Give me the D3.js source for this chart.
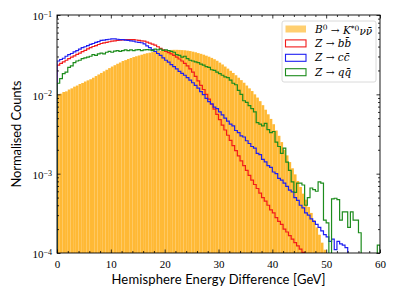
<!DOCTYPE html>
<html>
<head>
<meta charset="utf-8">
<script src="https://cdn.jsdelivr.net/npm/d3@7"></script>
<style>
body { margin: 0; background: #fff; }
svg { display: block; }
</style>
</head>
<body>
<svg id="chart" width="399" height="299"></svg>
<script>
// histogram bins: 0..60 GeV, 0.5 GeV wide
var binWidth = 0.5;
var xTicks = [0, 10, 20, 30, 40, 50, 60];
var yTicks = [1e-4, 1e-3, 1e-2, 1e-1];
var yTickExp = ["\u22124", "\u22123", "\u22122", "\u22121"];

// B0 -> K*0 nu nubar (filled)
var signal = [
    0.0100, 0.0102, 0.0107, 0.0109, 0.0115, 0.0119, 0.0125, 0.0129, 0.0135, 0.0139,
    0.0145, 0.0150, 0.0155, 0.0162, 0.0170, 0.0178, 0.0186, 0.0195, 0.0204, 0.0214,
    0.0224, 0.0233, 0.0243, 0.0252, 0.0263, 0.0270, 0.0279, 0.0287, 0.0295, 0.0302,
    0.0309, 0.0316, 0.0324, 0.0330, 0.0335, 0.0341, 0.0347, 0.0351, 0.0355, 0.0357,
    0.0359, 0.0361, 0.0363, 0.0364, 0.0364, 0.0363, 0.0361, 0.0359, 0.0355, 0.0351,
    0.0345, 0.0339, 0.0331, 0.0324, 0.0316, 0.0307, 0.0298, 0.0288, 0.0277, 0.0265,
    0.0251, 0.0238, 0.0224, 0.0211, 0.0198, 0.0186, 0.0174, 0.0162, 0.0151, 0.0140,
    0.0129, 0.0119, 0.0110, 0.0100, 0.0091, 0.0082, 0.0073, 0.0064, 0.0056, 0.0049,
    0.0042, 0.0035, 0.0030, 0.0025, 0.0020, 0.0017, 0.0014, 0.00117, 0.00098, 0.00081,
    0.00068, 0.00056, 0.00047, 0.00038, 0.00032, 0.00026, 0.00021, 0.00017, 0.000135, 0.00011,
    0, 0, 0, 0, 0, 0, 0, 0, 0, 0,
    0, 0, 0, 0, 0, 0, 0, 0, 0, 0
];

// Z -> b bbar
var zbb = [
    0.0234, 0.0245, 0.0257, 0.0269, 0.0282, 0.0294, 0.0305, 0.0318, 0.0331, 0.0345,
    0.0359, 0.0374, 0.0389, 0.0401, 0.0412, 0.0425, 0.0437, 0.0445, 0.0452, 0.0460,
    0.0468, 0.0473, 0.0479, 0.0482, 0.0484, 0.0488, 0.0490, 0.0490, 0.0490, 0.0484,
    0.0479, 0.0473, 0.0468, 0.0455, 0.0442, 0.0430, 0.0417, 0.0398, 0.0380, 0.0363,
    0.0347, 0.0335, 0.0324, 0.0309, 0.0295, 0.0279, 0.0263, 0.0245, 0.0229, 0.0209,
    0.0191, 0.0168, 0.0148, 0.0130, 0.0115, 0.0100, 0.0087, 0.0075, 0.0065, 0.0056,
    0.0048, 0.0041, 0.00355, 0.00305, 0.00263, 0.00226, 0.00195, 0.00168, 0.00145, 0.00126,
    0.00110, 0.00095, 0.00083, 0.00073, 0.00065, 0.00057, 0.00050, 0.00045, 0.00040, 0.00035,
    0.00032, 0.00028, 0.00025, 0.00023, 0.00020, 0.000184, 0.000166, 0.000150, 0.000135, 0.000123,
    0.000112, 0.000102, 0, 0, 0, 0, 0, 0, 0, 0,
    0, 0, 0, 0, 0, 0, 0, 0, 0, 0,
    0, 0, 0, 0, 0, 0, 0, 0, 0, 0
];

// Z -> c cbar
var zcc = [
    0.0263, 0.0275, 0.0285, 0.0302, 0.0316, 0.0327, 0.0343, 0.0355, 0.0372, 0.0389,
    0.0398, 0.0412, 0.0427, 0.0437, 0.0452, 0.0462, 0.0479, 0.0481, 0.0490, 0.0495,
    0.0501, 0.0501, 0.0495, 0.0490, 0.0490, 0.0481, 0.0479, 0.0473, 0.0468, 0.0457,
    0.0452, 0.0447, 0.0432, 0.0407, 0.0389, 0.0367, 0.0347, 0.0327, 0.0309, 0.0288,
    0.0269, 0.0254, 0.0237, 0.0224, 0.0209, 0.0195, 0.0184, 0.0174, 0.0162, 0.0151,
    0.0140, 0.0130, 0.0120, 0.0108, 0.0099, 0.0089, 0.0081, 0.0076, 0.0069, 0.0066,
    0.0060, 0.0055, 0.0050, 0.0046, 0.0042, 0.0040, 0.0035, 0.0033, 0.0030, 0.0029,
    0.0026, 0.0024, 0.0022, 0.0021, 0.0018, 0.00174, 0.00151, 0.00141, 0.00126, 0.00120,
    0.00105, 0.00100, 0.00087, 0.00083, 0.00076, 0.00069, 0.00062, 0.00059, 0.00050, 0.00046,
    0.00040, 0.00037, 0.00032, 0.00030, 0.00027, 0.00025, 0.00023, 0.00021, 0.00019, 0.00017,
    0.00016, 0.00014, 0.00015, 0.00011, 0.00014, 0.00013, 0.000126, 0.000117, 0, 0,
    0, 0, 0, 0, 0, 0, 0, 0, 0, 0
];

// Z -> q qbar
var zqq = [
    0.0138, 0.0158, 0.0182, 0.0191, 0.0219, 0.0229, 0.0251, 0.0263, 0.0269, 0.0282,
    0.0288, 0.0295, 0.0302, 0.0316, 0.0309, 0.0324, 0.0331, 0.0324, 0.0339, 0.0347,
    0.0339, 0.0351, 0.0355, 0.0347, 0.0355, 0.0363, 0.0355, 0.0363, 0.0355, 0.0363,
    0.0367, 0.0355, 0.0363, 0.0367, 0.0363, 0.0355, 0.0372, 0.0363, 0.0372, 0.0359,
    0.0363, 0.0355, 0.0347, 0.0339, 0.0316, 0.0309, 0.0295, 0.0302, 0.0282, 0.0269,
    0.0263, 0.0257, 0.0251, 0.0240, 0.0234, 0.0224, 0.0219, 0.0204, 0.0200, 0.0191,
    0.0182, 0.0174, 0.0166, 0.0162, 0.0151, 0.0138, 0.0132, 0.0112, 0.0100, 0.0083,
    0.0079, 0.0072, 0.0066, 0.0060, 0.0044, 0.0042, 0.0040, 0.0043, 0.0036, 0.0033,
    0.0034, 0.0025, 0.0022, 0.0018, 0.0021, 0.0014, 0.0011, 0.00079, 0.00058, 0.00076,
    0.00076, 0.00072, 0.00040, 0.00050, 0.00066, 0.00063, 0.00060, 0.00079, 0.00076, 0.00026,
    0.00024, 0, 0.00048, 0.00049, 0.00047, 0.00026, 0.00033, 0.00033, 0.00021, 0.00033,
    0.00026, 0.00026, 0.00018, 0, 0, 0, 0, 0, 0, 0.000126
];

var legendItems = [
    {kind: "fill", color: "#ffcf70",
     parts: [["B", "i"], ["0", "sup"], [" \u2192 ", ""], ["K", "i"], ["*0", "sup"], ["\u03bd", "i"], ["\u03bd\u0304", "i"]]},
    {kind: "line", color: "#f21b1b", parts: [["Z", "i"], [" \u2192 ", ""], ["b", "i"], ["b\u0304", "i"]]},
    {kind: "line", color: "#1f1ff2", parts: [["Z", "i"], [" \u2192 ", ""], ["c", "i"], ["c\u0304", "i"]]},
    {kind: "line", color: "#1d8c1d", parts: [["Z", "i"], [" \u2192 ", ""], ["q", "i"], ["q\u0304", "i"]]}
];

var svg = d3.select("#chart");
var pLeft = 57, pRight = 380, pTop = 15, pBottom = 253;

var x = d3.scaleLinear().domain([0, 60]).range([pLeft, pRight]);
var y = d3.scaleLog().domain([1e-4, 1e-1]).range([pBottom, pTop]);

function yv(v) {
    return v > 0 ? y(v) : pBottom + 10;
}

svg.append("clipPath").attr("id", "plotclip")
    .append("rect")
    .attr("x", pLeft).attr("y", pTop)
    .attr("width", pRight - pLeft).attr("height", pBottom - pTop);

var plot = svg.append("g").attr("clip-path", "url(#plotclip)");

// filled signal histogram
var bw = x(binWidth) - x(0);
plot.append("g").selectAll("rect")
    .data(signal.map(function(v, i) { return {x0: i * binWidth, v: v}; })
        .filter(function(d) { return d.v > 0; }))
    .enter().append("rect")
    .attr("x", function(d) { return x(d.x0); })
    .attr("width", bw)
    .attr("y", function(d) { return y(d.v); })
    .attr("height", function(d) { return pBottom - y(d.v); })
    .attr("fill", "#ffb935");

// step outlines for the backgrounds
var stepLine = d3.line()
    .curve(d3.curveStepAfter)
    .x(function(d) { return x(d[0]); })
    .y(function(d) { return yv(d[1]); });

function stepPoints(vals) {
    var pts = [[0, 0]];
    vals.forEach(function(v, i) { pts.push([i * binWidth, v]); });
    pts.push([vals.length * binWidth, vals[vals.length - 1]]);
    pts.push([vals.length * binWidth, 0]);
    return pts;
}

[[zbb, legendItems[1].color], [zcc, legendItems[2].color], [zqq, legendItems[3].color]]
    .forEach(function(s) {
        plot.append("path")
            .attr("d", stepLine(stepPoints(s[0])))
            .attr("fill", "none")
            .attr("stroke", s[1])
            .attr("stroke-width", 1.2)
            .attr("stroke-linejoin", "miter");
    });

// axes: ticks pointing inward on all four sides
var xMinor = d3.range(0, 61, 2).filter(function(v) { return v % 10 != 0; });
var yMinor = [];
[1e-4, 1e-3, 1e-2].forEach(function(d) {
    for (var k = 2; k <= 9; k++) yMinor.push(k * d);
});

function addAxis(axis, tr) {
    var g = svg.append("g").attr("transform", tr).call(axis);
    g.select(".domain").remove();
    g.selectAll("line").attr("stroke", "#000").attr("stroke-width", 0.8);
    return g;
}

var gx = addAxis(d3.axisBottom(x).tickValues(xTicks).tickSize(-3.5).tickPadding(7)
    .tickFormat(d3.format("d")), "translate(0," + pBottom + ")");
addAxis(d3.axisBottom(x).tickValues(xMinor).tickSize(-2).tickFormat(""), "translate(0," + pBottom + ")");
addAxis(d3.axisTop(x).tickValues(xTicks).tickSize(-3.5).tickFormat(""), "translate(0," + pTop + ")");
addAxis(d3.axisTop(x).tickValues(xMinor).tickSize(-2).tickFormat(""), "translate(0," + pTop + ")");

var gy = addAxis(d3.axisLeft(y).tickValues(yTicks).tickSize(-3.5).tickPadding(5)
    .tickFormat(""), "translate(" + pLeft + ",0)");
addAxis(d3.axisLeft(y).tickValues(yMinor).tickSize(-2).tickFormat(""), "translate(" + pLeft + ",0)");
addAxis(d3.axisRight(y).tickValues(yTicks).tickSize(-3.5).tickFormat(""), "translate(" + pRight + ",0)");
addAxis(d3.axisRight(y).tickValues(yMinor).tickSize(-2).tickFormat(""), "translate(" + pRight + ",0)");

gx.selectAll("text")
    .attr("font-family", "Liberation Serif, DejaVu Serif, serif")
    .attr("font-size", 11)
    .attr("fill", "#000");

gy.selectAll(".tick").each(function(d, i) {
    var t = d3.select(this).select("text")
        .attr("font-family", "Liberation Serif, DejaVu Serif, serif")
        .attr("font-size", 11)
        .attr("fill", "#000")
        .attr("x", -5)
        .attr("dy", "0.45em")
        .text(null);
    t.append("tspan").text("10");
    t.append("tspan").attr("dy", "-0.45em").attr("font-size", 8).text(yTickExp[i]);
});

svg.append("rect")
    .attr("x", pLeft).attr("y", pTop)
    .attr("width", pRight - pLeft).attr("height", pBottom - pTop)
    .attr("fill", "none").attr("stroke", "#000").attr("stroke-width", 0.9);

// axis labels
svg.append("text")
    .attr("x", (pLeft + pRight) / 2).attr("y", 284)
    .attr("text-anchor", "middle")
    .attr("font-family", "Lato, Open Sans, sans-serif")
    .attr("font-size", 13)
    .attr("textLength", 214)
    .text("Hemisphere Energy Difference [GeV]");

svg.append("text")
    .attr("transform", "translate(21,134) rotate(-90)")
    .attr("text-anchor", "middle")
    .attr("font-family", "Lato, Open Sans, sans-serif")
    .attr("font-size", 13)
    .attr("textLength", 107)
    .text("Normalised Counts");

// legend
var lg = svg.append("g").attr("transform", "translate(282,21)");
lg.append("rect")
    .attr("width", 94).attr("height", 61).attr("rx", 2)
    .attr("fill", "#fff").attr("fill-opacity", 0.85)
    .attr("stroke", "#d0d0d0").attr("stroke-width", 0.8);

legendItems.forEach(function(item, i) {
    var cy = 8 + i * 14.4;
    var r = lg.append("rect")
        .attr("x", 3.5).attr("y", cy - 3.5)
        .attr("width", 20.5).attr("height", 7);
    if (item.kind == "fill") {
        r.attr("fill", item.color);
    } else {
        r.attr("fill", "none").attr("stroke", item.color).attr("stroke-width", 1.1);
    }
    var t = lg.append("text")
        .attr("x", 33).attr("y", cy + 3.5)
        .attr("font-family", "DejaVu Serif, Liberation Serif, serif")
        .attr("font-size", 10.5)
        .attr("fill", "#000");
    var shifted = false;
    item.parts.forEach(function(p) {
        var s = t.append("tspan");
        if (p[1] == "sup") {
            if (!shifted) s.attr("dy", "-0.4em");
            s.attr("font-size", 7.5);
            shifted = true;
        } else if (shifted) {
            s.attr("dy", "0.4em");
            shifted = false;
        }
        if (p[1] == "i") s.attr("font-style", "italic");
        s.text(p[0]);
    });
});
</script>
</body>
</html>
